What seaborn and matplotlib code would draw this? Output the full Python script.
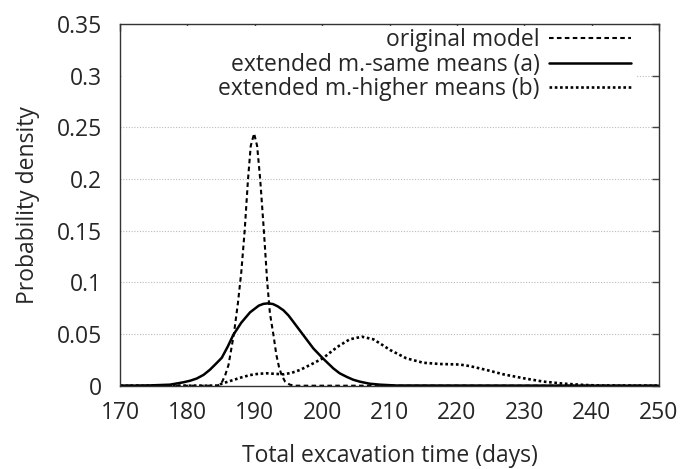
import matplotlib
matplotlib.use("Agg")
import matplotlib.pyplot as plt
from matplotlib.patches import Rectangle
import seaborn as sns

# values
days_orig = [170, 184.5, 185.1, 185.6, 186.1, 186.5, 186.9, 187.5, 188.0, 188.5, 189.0, 189.4,
             189.9, 190.35, 190.8, 191.35, 191.85, 192.25, 192.75, 193.2, 193.6, 194.0, 194.5,
             195.2, 196, 250]
dens_orig = [0, 0, 0.003, 0.01, 0.02, 0.035, 0.05, 0.08, 0.11, 0.15, 0.20, 0.232,
             0.244, 0.232, 0.20, 0.15, 0.10, 0.07, 0.05, 0.03, 0.018, 0.01, 0.004,
             0.001, 0, 0]

days_same = [170, 174, 177.4, 179.4, 180.4, 181.4, 182.4, 183.35, 184.2, 185.1, 186.0, 186.8,
             188.0, 189.3, 190.6, 191.3, 192.0, 192.7, 193.4, 194.25, 195.0, 195.7, 197.2,
             198.7, 200.1, 201.65, 202.6, 203.6, 204.6, 205.6, 207.0, 208.6, 211, 250]
dens_same = [0, 0.0002, 0.001, 0.0033, 0.0048, 0.007, 0.0105, 0.0155, 0.021, 0.027, 0.038, 0.049,
             0.061, 0.071, 0.0775, 0.0792, 0.0797, 0.079, 0.0768, 0.073, 0.068, 0.062, 0.049,
             0.036, 0.0265, 0.0168, 0.012, 0.0087, 0.0058, 0.0039, 0.002, 0.001, 0.0002, 0]

days_high = [170, 184.5, 185.1, 186.8, 188.0, 189.3, 190.5, 191.75, 193.0, 194.25, 195.5, 196.7,
             198.7, 200.1, 201.65, 202.6, 204.1, 205.9, 207.6, 208.8, 210.1, 212.5, 215.0,
             217.5, 220.4, 221.9, 224.4, 226.9, 229.9, 232.8, 235.8, 238.7, 241, 250]
dens_high = [0, 0, 0.002, 0.0055, 0.008, 0.0103, 0.0115, 0.012, 0.0115, 0.011, 0.0125, 0.0152,
             0.0217, 0.0265, 0.0345, 0.039, 0.0449, 0.0474, 0.0449, 0.040, 0.0345, 0.0265, 0.0222,
             0.021, 0.0205, 0.019, 0.0152, 0.011, 0.0072, 0.004, 0.002, 0.0008, 0.0002, 0]

labels = ["original model", "extended m.-same means (a)", "extended m.-higher means (b)"]
x_ticks = [170, 180, 190, 200, 210, 220, 230, 240, 250]
y_ticks = [0, 0.05, 0.1, 0.15, 0.2, 0.25, 0.3, 0.35]
y_tick_labels = ["0", "0.05", "0.1", "0.15", "0.2", "0.25", "0.3", "0.35"]

sns.set_style("white")
plt.rcParams["font.family"] = ["Open Sans", "DejaVu Sans"]
plt.rcParams["font.size"] = 16.5

fig = plt.figure(figsize=(6.87, 4.69), dpi=100)
ax = fig.add_axes([0.1747, 0.1776, 0.7846, 0.7713])

sns.lineplot(x=days_orig, y=dens_orig, ax=ax, color="black", lw=1.5,
             linestyle=(0, (2.2, 1.6)), label=labels[0])
sns.lineplot(x=days_same, y=dens_same, ax=ax, color="black", lw=1.8,
             linestyle="-", label=labels[1])
sns.lineplot(x=days_high, y=dens_high, ax=ax, color="black", lw=1.9,
             linestyle=(0, (1.0, 1.0)), label=labels[2])

ax.set_xlim(170, 250)
ax.set_ylim(0, 0.35)
ax.set_xticks(x_ticks)
ax.set_yticks(y_ticks)
ax.set_yticklabels(y_tick_labels)
ax.tick_params(direction="in", length=5, width=1, top=True, right=True,
               labelsize=16.5, color="#444444")
ax.tick_params(axis="y", pad=13)
ax.tick_params(axis="x", pad=11)
ax.yaxis.grid(True, linestyle=(0, (1, 1.5)), color="#bbbbbb", lw=0.8)
ax.xaxis.grid(False)
for s in ax.spines.values():
    s.set_color("#333333")
    s.set_linewidth(1.0)

# white key area hides the grid behind the legend, as in gnuplot
ax.add_patch(Rectangle((0.005, 0.80), 0.955, 0.195, transform=ax.transAxes,
                       facecolor="white", edgecolor="none", zorder=1))

ax.set_xlabel("Total excavation time (days)", fontsize=16.5, labelpad=14)
ax.set_ylabel("Probability density", fontsize=16.5, labelpad=12)

leg = ax.legend(loc="upper right", bbox_to_anchor=(0.978, 1.032), markerfirst=False,
                handlelength=3.6, handletextpad=0.4, labelspacing=0.02,
                borderpad=0.2, frameon=False, fontsize=16.5)
leg.set_zorder(5)

fig.savefig("out.png", dpi=100)
